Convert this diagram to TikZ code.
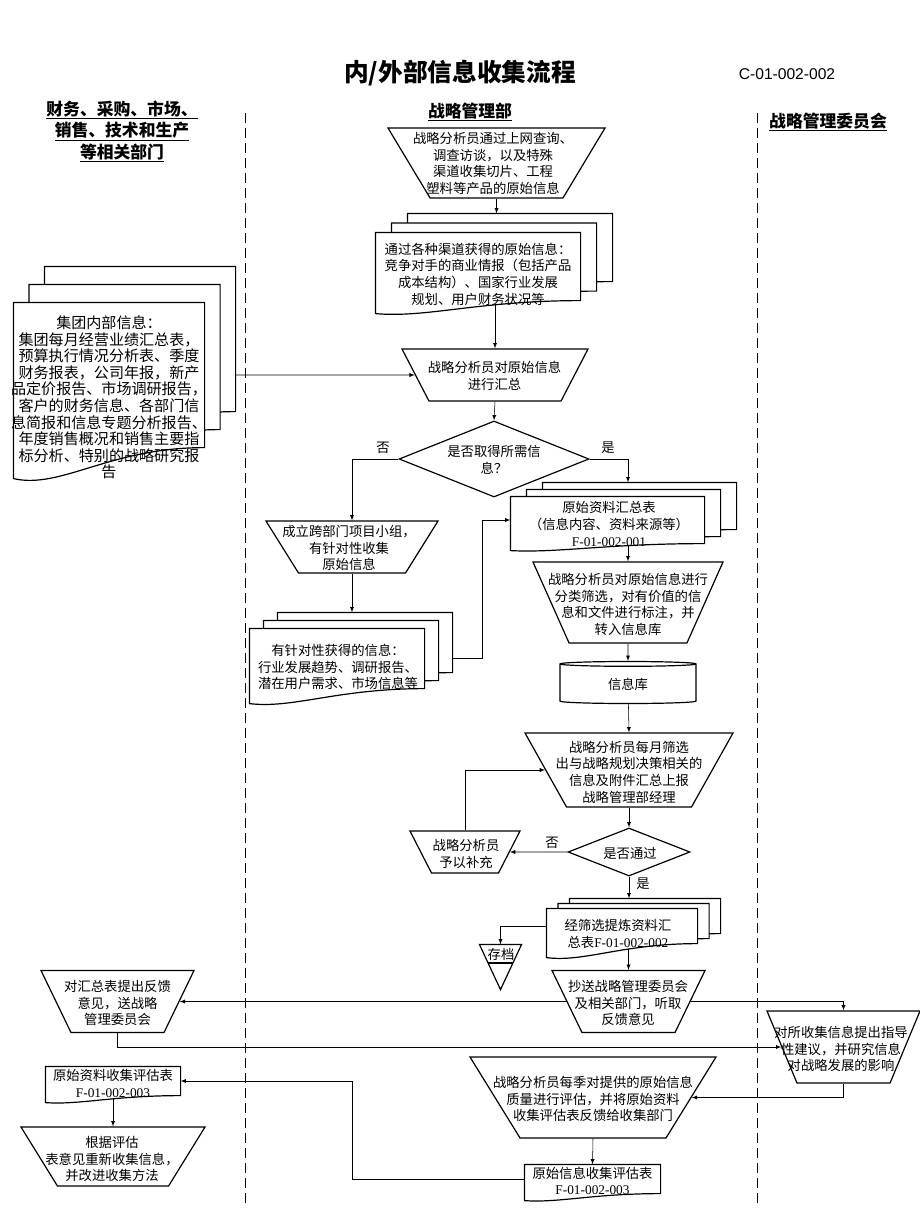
\documentclass[tikz,border=0pt]{standalone}
\usepackage{fontspec}
\setmainfont{Noto Sans CJK SC}
\newfontfamily\tnr{Liberation Serif}
\newfontfamily\arial{Liberation Sans}
\usetikzlibrary{shapes.geometric, arrows, calc, backgrounds}

% sheets of a document (stack), drawn behind the text of node #1
\newcommand{\docstack}[5]{%
  \foreach \sh in {#5} {%
    \path ($(#1.north west)+({\sh*(#2)},{\sh*(#3)})$) coordinate (dtl)
          ($(#1.south east)+({\sh*(#2)},{\sh*(#3)})$) coordinate (dbr);
    \draw[fill=white] (dtl) -- (dtl -| dbr) -- (dbr)
      .. controls ($(dtl |- dbr)!.5!(dbr)$) and ($(dtl |- dbr)!.25!(dbr)+(0,{1.35*(#4)})$)
      .. ($(dtl |- dbr)+(0,{#4})$) -- cycle;
  }}

\begin{document}
\begin{tikzpicture}[x=0.75pt, y=-0.75pt, line width=0.9pt]
    % Define styles for blocks and arrows
    \tikzstyle{manop} = [trapezium, draw, fill=white, shape border rotate=180, trapezium stretches body=true, inner sep=0pt, text depth=0pt]
    \tikzstyle{decision} = [diamond, draw, fill=white, inner sep=0pt]
    \tikzstyle{docbox} = [rectangle, inner sep=0pt]
    \tikzstyle{txt} = [align=center, inner sep=0pt, font=\fontsize{10}{12.5}\selectfont]
    \tikzstyle{head} = [align=center, inner sep=0pt, font=\fontsize{12.6}{16.1}\selectfont\bfseries]
    \tikzstyle{lane} = [line width=0.6pt, dash pattern=on 7.5pt off 3.75pt]
    \tikzstyle{arrow} = [->,>=latex]
    \tikzset{sz/.style 2 args={minimum width=#1*0.75pt, minimum height=#2*0.75pt}}

    \useasboundingbox (0,0) rectangle (920,1227);

    % Title and lanes
    \node (title) at (460,73) {\fontsize{18.5}{20}\selectfont\bfseries 内/外部信息收集流程};
    \node (code) at (787,74) {\arial\fontsize{11.7}{14}\selectfont C-01-002-002};
    \node (lane1) [head] at (122,131.5) {\underline{财务、采购、市场、}\\\underline{销售、技术和生产}\\\underline{等相关部门}};
    \node (lane2) [head] at (470,112) {\underline{战略管理部}};
    \node (lane3) [head] at (828,122) {\underline{战略管理委员会}};
    \draw[lane] (245,113) -- (245,1205);
    \draw[lane] (757,113) -- (757,1205);

    % Nodes (trapezia: width, height in pt, side angle)
    \node (n1) [manop, minimum width=162.75pt, text height=52.5pt, trapezium angle=59.0] at (496.5,163) {};
    \node (t1) [txt] at (493,163.5) {战略分析员通过上网查询、\\调查访谈，以及特殊\\渠道收集切片、工程\\塑料等产品的原始信息};

    \node (n2) [docbox, sz={204}{67}] at (478,266.5) {};
    \docstack{n2}{16}{-9.5}{13}{2,1,0}
    \coordinate (n2-top) at ($(n2.north)+(0,-19)$);
    \node (t2) [txt] at (478,274) {通过各种渠道获得的原始信息：\\竞争对手的商业情报（包括产品\\成本结构）、国家行业发展\\规划、用户财务状况等};

    \node (n3) [manop, minimum width=139.5pt, text height=39pt, trapezium angle=62.6] at (495,375) {};
    \node (t3) [txt] at (494.5,376) {战略分析员对原始信息\\进行汇总};

    \node (n4) [docbox, sz={190}{144}] at (109,375) {};
    \docstack{n4}{15.5}{-18}{31}{2,1,0}
    \node (t4) [txt, font=\fontsize{11.3}{12.45}\selectfont] at (109,397.5) {集团内部信息：\\集团每月经营业绩汇总表，\\预算执行情况分析表、季度\\财务报表，公司年报，新产\\品定价报告、市场调研报告，\\客户的财务信息、各部门信\\息简报和信息专题分析报告、\\年度销售概况和销售主要指\\标分析、特别的战略研究报\\告};

    \node (d1) [decision, sz={190}{76}] at (494,459) {};
    \node (td1) [txt] at (494,459.5) {是否取得所需信\\息？};
    \node (l1) [txt] at (383,448) {否};
    \node (l2) [txt] at (608,448) {是};

    \node (n5) [manop, minimum width=129pt, text height=39pt, trapezium angle=58.0] at (352,547) {};
    \node (t5) [txt] at (349,548) {成立跨部门项目小组，\\有针对性收集\\原始信息};

    \node (n6) [docbox, sz={193}{46}] at (607.5,520) {};
    \docstack{n6}{16}{-7}{7}{2,1,0}
    \coordinate (n6-top) at ($(n6.north)+(0,-14)$);
    \node (t6) [txt] at (609,524) {原始资料汇总表\\（信息内容、资料来源等）\\{\tnr F-01-002-001}};

    \node (n7) [docbox, sz={174}{59}] at (337,658.5) {};
    \docstack{n7}{14}{-8}{15}{2,1,0}
    \coordinate (n7-top) at ($(n7.north)+(0,-16)$);
    \node (t7) [txt] at (338,667) {有针对性获得的信息：\\行业发展趋势、调研报告、\\潜在用户需求、市场信息等};

    \node (n8) [manop, minimum width=142.5pt, text height=60.75pt, trapezium angle=66.0] at (628,602.5) {};
    \node (t8) [txt] at (628,604.5) {战略分析员对原始信息进行\\分类筛选，对有价值的信\\息和文件进行标注，并\\转入信息库};

    \node (n9) [cylinder, draw, fill=white, shape border rotate=90, aspect=0.12, txt, sz={136}{42}] at (628,684) {信息库};

    \node (n10) [manop, minimum width=156pt, text height=55.5pt, trapezium angle=60.7] at (629,770) {};
    \node (t10) [txt] at (629,772) {战略分析员每月筛选\\出与战略规划决策相关的\\信息及附件汇总上报\\战略管理部经理};

    \node (d2) [decision, sz={122}{48}] at (629,852) {};
    \node (td2) [txt] at (630,853) {是否通过};
    \node (l3) [txt] at (552,843) {否};
    \node (l4) [txt] at (643,884) {是};

    \node (n11) [manop, minimum width=82.5pt, text height=31.5pt, trapezium angle=62.9] at (465,852) {};
    \node (t11) [txt] at (466,854) {战略分析员\\予以补充};

    \node (n12) [docbox, sz={150}{34}] at (622,926) {};
    \docstack{n12}{11.5}{-5}{14}{2,1,0}
    \coordinate (n12-top) at ($(n12.north)+(0,-10)$);
    \node (t12) [txt] at (618,934) {经筛选提炼资料汇\\总表{\tnr F-01-002-002}};

    \node (n13) [docbox, sz={41}{44}] at (500.5,967) {};
    \draw (n13.north west) -- (n13.north east) -- (n13.south) -- cycle;
    \draw ($(n13.north west)!0.41!(n13.south)$) -- ($(n13.north east)!0.41!(n13.south)$);
    \node (t13) [txt] at (501,954) {存档};

    \node (n14) [manop, minimum width=114.75pt, text height=46.5pt, trapezium angle=64.2] at (628.5,1001.5) {};
    \node (t14) [txt] at (628,1003) {抄送战略管理委员会\\及相关部门，听取\\反馈意见};

    \node (n15) [manop, minimum width=114.75pt, text height=46.5pt, trapezium angle=64.2] at (117.5,1001.5) {};
    \node (t15) [txt] at (117.5,1003) {对汇总表提出反馈\\意见，送战略\\管理委员会};

    \node (n16) [manop, minimum width=114.75pt, text height=54pt, trapezium angle=67.4] at (843.5,1047) {};
    \node (t16) [txt] at (841,1049) {对所收集信息提出指导\\性建议，并研究信息\\对战略发展的影响};

    \node (n17) [manop, minimum width=184.5pt, text height=60.75pt, trapezium angle=58.3] at (593,1097.5) {};
    \node (t17) [txt] at (593,1099) {战略分析员每季对提供的原始信息\\质量进行评估，并将原始资料\\收集评估表反馈给收集部门};

    \node (n18) [docbox, sz={135}{28}] at (592.5,1179) {};
    \docstack{n18}{0}{0}{7}{0}
    \node (t18) [txt] at (592.5,1181) {原始信息收集评估表\\{\tnr F-01-002-003}};

    \node (n19) [docbox, sz={134}{28}] at (113,1081) {};
    \docstack{n19}{0}{0}{7}{0}
    \node (t19) [txt] at (113,1083.5) {原始资料收集评估表\\{\tnr F-01-002-003}};

    \node (n20) [manop, minimum width=138pt, text height=44.25pt, trapezium angle=58.3] at (113,1156.5) {};
    \node (t20) [txt] at (112,1159) {根据评估\\表意见重新收集信息，\\并改进收集方法};

    % Arrows
    \begin{pgfonlayer}{background}
    \draw [arrow] (n1.270) -- (n1.270 |- n2-top);
    \draw [arrow] (n3.90 |- n2.south) -- (n3.90);
    \draw [arrow] (n4.east) -- (n3.180);
    \draw [arrow] (n3.270) -- (d1.north);
    \draw [arrow] (d1.west) -| (n5.90);
    \draw [arrow] (d1.east) -| (n8.90 |- n6-top);
    \draw [arrow] (n5.270) -- (n5.270 |- n7-top);
    \draw [arrow] (n7.east) -- ++(58,0) |- (n6.west);
    \draw [arrow] (n8.90 |- n6.south) -- (n8.90);
    \draw [arrow] (n8.270) -- (n9);
    \draw [arrow] (n9) -- (n10.90);
    \draw [arrow] (n10.270) -- (d2.north);
    \draw [arrow] (d2.west) -- (n11.0);
    \draw [arrow] (n11.90) |- (n10.180);
    \draw [arrow] (d2.south) -- (d2.south |- n12-top);
    \draw [arrow] (n12.west) -| (n13.north);
    \draw [arrow] (n14.90 |- n12.south) -- (n14.90);
    \draw [arrow] (n14.180) -- (n15.0);
    \draw [arrow] (n14.0) -| (n16.90);
    \draw [arrow] (n15.270) |- (n16.180);
    \draw [arrow] (n16.270) |- (n17.0);
    \draw [arrow] (n17.270) -- (n18.north);
    \draw [arrow] (n18.west) -- ++(-172,0) |- (n19.east);
    \draw [arrow] (n19.south) -- (n20.90);
    \end{pgfonlayer}

\end{tikzpicture}
\end{document}
